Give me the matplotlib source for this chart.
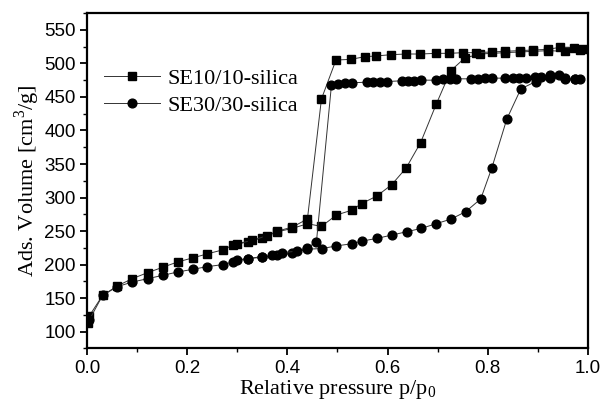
import numpy as np
import matplotlib
matplotlib.use("Agg")
import matplotlib.pyplot as plt
from matplotlib.ticker import MultipleLocator

# SE10/10-silica, adsorption and desorption branches
ads_x10 = [0.003, 0.005, 0.031, 0.060, 0.090, 0.121, 0.151, 0.181, 0.211, 0.240, 0.271,
           0.291, 0.321, 0.350, 0.380, 0.410, 0.440, 0.468, 0.498, 0.528, 0.548, 0.578,
           0.608, 0.637, 0.666, 0.697, 0.726, 0.754, 0.784, 0.834, 0.864, 0.891, 0.921,
           0.954, 0.984]
ads_y10 = [113, 124, 154, 168, 179, 188, 196, 204, 210, 216, 222,
           229, 234, 240, 249, 254, 261, 257, 274, 281, 291, 302,
           319, 344, 382, 439, 489, 508, 514, 516, 517, 518, 519,
           518, 520]
des_x10 = [0.990, 0.973, 0.944, 0.921, 0.891, 0.864, 0.834, 0.808, 0.776, 0.751, 0.723,
           0.697, 0.665, 0.637, 0.607, 0.576, 0.555, 0.526, 0.497, 0.468, 0.440, 0.410,
           0.380, 0.359, 0.329, 0.299]
des_y10 = [521, 523, 524, 521, 520, 519, 518, 517, 516, 516, 515,
           515, 514, 514, 513, 511, 510, 506, 505, 447, 268, 256,
           250, 243, 236, 231]

# SE30/30-silica
ads_x30 = [0.005, 0.031, 0.060, 0.090, 0.121, 0.151, 0.181, 0.211, 0.240, 0.271, 0.291,
           0.321, 0.350, 0.380, 0.410, 0.440, 0.470, 0.498, 0.528, 0.548, 0.578, 0.608,
           0.638, 0.667, 0.697, 0.727, 0.756, 0.786, 0.808, 0.838, 0.866, 0.896, 0.924,
           0.954, 0.974]
ads_y30 = [118, 154, 167, 174, 179, 184, 189, 193, 197, 200, 204,
           209, 211, 214, 217, 223, 224, 228, 231, 235, 239, 244,
           249, 254, 261, 268, 279, 298, 344, 417, 462, 473, 478,
           477, 477]
des_x30 = [0.985, 0.974, 0.954, 0.943, 0.924, 0.906, 0.894, 0.876, 0.863, 0.850, 0.834,
           0.808, 0.794, 0.781, 0.766, 0.737, 0.725, 0.711, 0.697, 0.667, 0.653, 0.641,
           0.628, 0.598, 0.585, 0.571, 0.558, 0.528, 0.515, 0.502, 0.488, 0.458, 0.440,
           0.420, 0.389, 0.369, 0.350, 0.321, 0.299]
des_y30 = [477, 477, 478, 482, 482, 480, 479, 478, 478, 478, 478,
           478, 478, 477, 477, 477, 476, 476, 475, 475, 474, 474,
           474, 473, 473, 473, 472, 471, 471, 470, 468, 234, 225,
           220, 218, 214, 212, 209, 207]

serif = ["Liberation Serif", "DejaVu Serif"]
sans = ["Liberation Sans", "DejaVu Sans"]

fig = plt.figure(figsize=(6.02, 4.09), dpi=100)
ax = fig.add_axes([0.1445, 0.148, 0.8322, 0.82])

line_kw = dict(color="#333333", linewidth=0.7)
ax.plot(ads_x10, ads_y10, marker="s", markersize=5.3, markerfacecolor="black",
        markeredgecolor="black", label="SE10/10-silica", **line_kw)
ax.plot(des_x10, des_y10, marker="s", markersize=5.3, markerfacecolor="black",
        markeredgecolor="black", **line_kw)
ax.plot(ads_x30, ads_y30, marker="o", markersize=6.3, markerfacecolor="black",
        markeredgecolor="black", label="SE30/30-silica", **line_kw)
ax.plot(des_x30, des_y30, marker="o", markersize=6.3, markerfacecolor="black",
        markeredgecolor="black", **line_kw)

ax.set_xlim(0, 1.0)
ax.set_ylim(75, 575)
ax.xaxis.set_major_locator(MultipleLocator(0.2))
ax.xaxis.set_minor_locator(MultipleLocator(0.1))
ax.yaxis.set_major_locator(MultipleLocator(50))
ax.yaxis.set_minor_locator(MultipleLocator(25))
ax.set_yticks(np.arange(100, 551, 50))
ax.xaxis.set_major_formatter(matplotlib.ticker.FormatStrFormatter("%.1f"))

ax.tick_params(which="major", direction="out", length=5, width=1.3, labelsize=13.5, pad=3)
ax.tick_params(which="minor", direction="out", length=3, width=1.0)
for lab in ax.get_xticklabels() + ax.get_yticklabels():
    lab.set_family(sans)
for sp in ax.spines.values():
    sp.set_linewidth(1.6)

ax.set_xlabel("Relative pressure p/p$_\\mathregular{0}$", family=serif, fontsize=16, labelpad=1)
ax.set_ylabel("Ads. Volume [cm$^\\mathregular{3}$/g]", family=serif, fontsize=16, labelpad=2)

leg = ax.legend(loc="upper left", bbox_to_anchor=(-0.005, 0.895), frameon=False,
                handlelength=2.5, prop={"family": serif, "size": 16},
                labelspacing=0.3, handletextpad=0.35)

fig.savefig("out.png", dpi=100)
